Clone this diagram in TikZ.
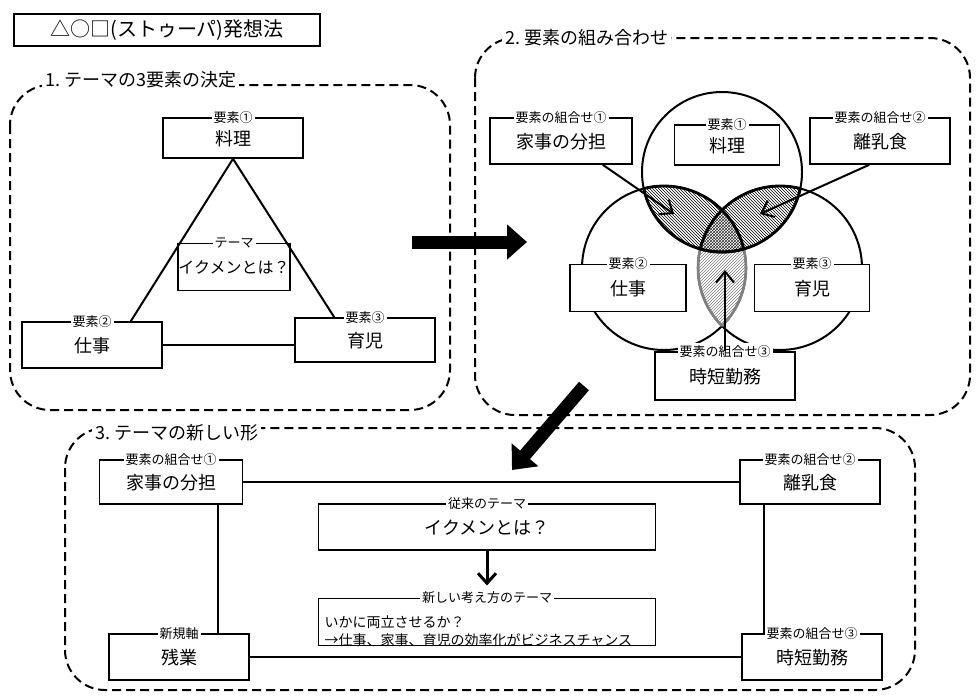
\documentclass[tikz,border=0pt]{standalone}
\usepackage{fontspec}
\setmainfont{Noto Sans CJK JP}
\usepackage{tikz}
\usetikzlibrary{arrows.meta,patterns}

\tikzset{
  box/.style={draw,line width=1.6pt,fill=white,inner sep=0pt,font=\fontsize{18}{21}\selectfont,text depth=-6pt},
  ttl/.style={fill=white,inner sep=2pt,font=\fontsize{13}{15}\selectfont},
  region/.style={draw,line width=2pt,dash pattern=on 9pt off 5pt,rounded corners=40pt},
  rtitle/.style={anchor=west,fill=white,inner sep=3pt,font=\fontsize{18}{21}\selectfont},
  link/.style={line width=2pt},
  bigarrow/.style={line width=13pt,-{Triangle[length=20pt,width=34pt]}},
  smallarrow/.style={line width=2pt,-{Straight Barb[length=11pt,width=18pt]}}
}

\begin{document}
\begin{tikzpicture}[x=1pt,y=-1pt]
\useasboundingbox (0,0) rectangle (976,697);
% title
\node[draw,line width=1.8pt,minimum width=306pt,minimum height=32pt,font=\fontsize{20}{23}\selectfont] (head) at (167,30) {△○□(ストゥーパ)発想法};

% regions
\draw[region] (10,85) rectangle (450,410);
\node[rtitle] (t1) at (42,80) {1.\ テーマの3要素の決定};
\draw[region] (475,38) rectangle (970,415);
\node[rtitle] (t2) at (502,38) {2.\ 要素の組み合わせ};
\draw[region] (65,428) rectangle (915,690);
\node[rtitle] (t3) at (92,433) {3.\ テーマの新しい形};

% 1
\node[box,minimum width=140pt,minimum height=40pt] (ryori) at (233,138) {料理};
\node[ttl] at (ryori.north) {要素①};
\node[box,minimum width=112pt,minimum height=47pt,font=\fontsize{16}{19}\selectfont] (theme) at (234,267) {イクメンとは？};
\node[ttl] at (theme.north) {テーマ};
\node[box,minimum width=140pt,minimum height=46pt] (shigoto) at (92,345) {仕事};
\node[ttl] at (shigoto.north) {要素②};
\node[box,minimum width=140pt,minimum height=44pt] (ikuji) at (365,340) {育児};
\node[ttl] at (ikuji.north) {要素③};
\draw[link] (ryori.south) -- ([xshift=-32pt]shigoto.north east);
\draw[link] (ryori.south) -- ([xshift=40pt]ikuji.north west);
\draw[link] (shigoto.east) -- (ikuji.west |- shigoto.east);

% 2: venn
\def\ctop{(722,172) circle [radius=80pt]}
\def\cleft{(664,268) circle [radius=82pt]}
\def\cright{(780,268) circle [radius=82pt]}
\begin{scope}
  \clip \cleft; \clip \cright;
  \fill[pattern=north east lines,pattern color=gray] (580,180) rectangle (870,350);
\end{scope}
\begin{scope}
  \clip \ctop; \clip \cleft;
  \fill[white] (580,90) rectangle (870,350);
  \fill[pattern=north west lines] (580,90) rectangle (870,350);
\end{scope}
\begin{scope}
  \clip \ctop; \clip \cright;
  \fill[white] (580,90) rectangle (870,350);
  \fill[pattern=north west lines] (580,90) rectangle (870,350);
\end{scope}
\begin{scope}
  \clip \ctop; \clip \cleft; \clip \cright;
  \fill[white] (580,90) rectangle (870,350);
  \fill[pattern=crosshatch,pattern color=black!80] (580,90) rectangle (870,350);
\end{scope}
\draw[line width=2pt] \ctop \cleft \cright;
\begin{scope}[even odd rule]
  \clip (560,80) rectangle (900,360) \ctop;
  \begin{scope}
    \clip \cright; \draw[line width=2.6pt,gray] \cleft;
  \end{scope}
  \begin{scope}
    \clip \cleft; \draw[line width=2.6pt,gray] \cright;
  \end{scope}
\end{scope}
\begin{scope}
  \clip \ctop;
  \draw[line width=2.8pt] \cleft \cright;
\end{scope}
\begin{scope}
  \clip \cleft; \draw[line width=2.8pt] \ctop;
\end{scope}
\begin{scope}
  \clip \cright; \draw[line width=2.8pt] \ctop;
\end{scope}

\node[box,minimum width=142pt,minimum height=46pt] (kaji) at (561,141) {家事の分担};
\node[ttl] at (kaji.north) {要素の組合せ①};
\node[box,minimum width=105pt,minimum height=40pt] (ryori2) at (727,145) {料理};
\node[ttl] at (ryori2.north) {要素①};
\node[box,minimum width=140pt,minimum height=46pt] (rinyu) at (880,141) {離乳食};
\node[ttl] at (rinyu.north) {要素の組合せ②};
\node[box,minimum width=116pt,minimum height=47pt] (shigoto2) at (628,288) {仕事};
\node[ttl] at (shigoto2.north) {要素②};
\node[box,minimum width=115pt,minimum height=47pt] (ikuji2) at (812,288) {育児};
\node[ttl] at (ikuji2.north) {要素③};
\node[box,minimum width=140pt,minimum height=48pt] (jitan) at (725,376) {時短勤務};
\node[ttl] at (jitan.north) {要素の組合せ③};
\coordinate (lensL) at (674,214);
\coordinate (lensR) at (760,214);
\coordinate (lensB) at (725,270);
\draw[smallarrow] ([xshift=-30pt]kaji.south east) -- (lensL);
\draw[smallarrow] ([xshift=60pt]rinyu.south west) -- (lensR);
\draw[smallarrow] (jitan.north) -- (lensB);

% big arrows
\coordinate (a1s) at (412,242);
\coordinate (a1e) at (527,242);
\draw[bigarrow] (a1s) -- (a1e);
\coordinate (a2s) at (584,386);
\coordinate (a2e) at (512,470);
\draw[bigarrow] (a2s) -- (a2e);

% 3
\node[box,minimum width=143pt,minimum height=44pt] (kaji3) at (171,482) {家事の分担};
\node[ttl] at (kaji3.north) {要素の組合せ①};
\node[box,minimum width=140pt,minimum height=44pt] (rinyu3) at (810,482) {離乳食};
\node[ttl] at (rinyu3.north) {要素の組合せ②};
\node[box,minimum width=140pt,minimum height=46pt] (zangyo) at (179,657) {残業};
\node[ttl] at (zangyo.north) {新規軸};
\node[box,minimum width=140pt,minimum height=46pt] (jitan3) at (812,657) {時短勤務};
\node[ttl] at (jitan3.north) {要素の組合せ③};
\draw[link] (kaji3.east) -- (rinyu3.west |- kaji3.east);
\draw[link] ([xshift=-25pt]kaji3.south east) -- ([xshift=-25pt]kaji3.south east |- zangyo.north);
\draw[link] ([xshift=25pt]rinyu3.south west) -- ([xshift=25pt]rinyu3.south west |- jitan3.north);
\draw[link] (zangyo.east) -- (jitan3.west |- zangyo.east);
\node[box,minimum width=337pt,minimum height=46pt] (old) at (487,527) {イクメンとは？};
\node[ttl] at (old.north) {従来のテーマ};
\node[box,minimum width=337pt,minimum height=47pt,align=left,text width=325pt,font=\fontsize{14}{18}\selectfont,text depth=0pt] (new) at (487,622) {いかに両立させるか？\\→仕事、家事、育児の効率化がビジネスチャンス};
\node[ttl] (newttl) at (new.north) {新しい考え方のテーマ};
\draw[line width=3pt,-{Straight Barb[length=10pt,width=18pt]}] (old.south) -- ([yshift=4pt]newttl.north);
\end{tikzpicture}
\end{document}
